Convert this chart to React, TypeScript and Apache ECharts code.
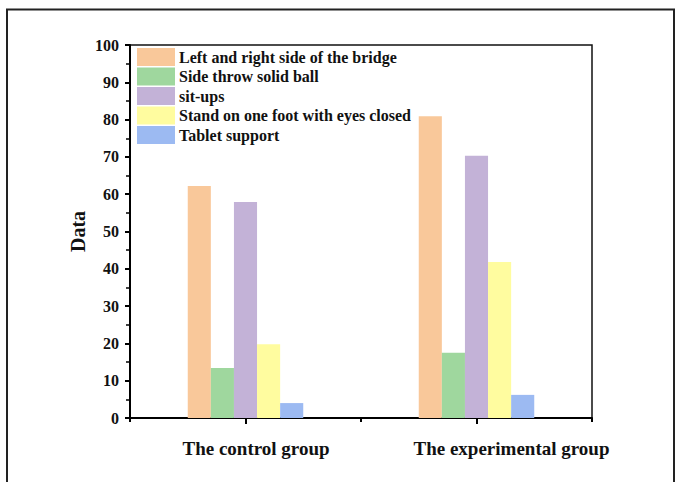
import React, { useEffect, useRef } from "react";
import * as echarts from "echarts";

const categories = ["The control group", "The experimental group"];
const seriesNames = [
  "Left and right side of the bridge",
  "Side throw solid ball",
  "sit-ups",
  "Stand on one foot with eyes closed",
  "Tablet support",
];
const bridgeValues = [62.2, 80.9];
const throwValues = [13.4, 17.5];
const situpValues = [57.9, 70.3];
const standValues = [19.8, 41.8];
const tabletValues = [4.0, 6.2];
const colors = ["#F9C89A", "#9FD79E", "#C3B2D7", "#FFFC9F", "#9CBAF2"];
const yTicks = { min: 0, max: 100, interval: 10 };

const FONT = "'Liberation Serif', 'Times New Roman', serif";

export default function App() {
  const ref = useRef<HTMLDivElement>(null);
  useEffect(() => {
    if (!ref.current) return;
    const chart = echarts.init(ref.current, null, { renderer: "svg" });
    const values = [bridgeValues, throwValues, situpValues, standValues, tabletValues];
    chart.setOption({
      animation: false,
      backgroundColor: "#fff",
      graphic: [
        {
          type: "rect",
          shape: { x: 7, y: 9.5, width: 667, height: 500 },
          style: { fill: "none", stroke: "#222", lineWidth: 2 },
          silent: true,
        },
      ],
      grid: {
        left: 130,
        right: 83,
        top: 45,
        bottom: 64,
        show: true,
        borderColor: "#111",
        borderWidth: 1.5,
        backgroundColor: "transparent",
      },
      legend: {
        orient: "vertical",
        left: 137,
        top: 48,
        padding: 0,
        itemWidth: 38,
        itemHeight: 18,
        itemGap: 1.5,
        icon: "rect",
        data: seriesNames,
        textStyle: {
          fontFamily: FONT,
          fontWeight: "bold",
          fontSize: 16,
          color: "#111",
          padding: [0, 0, 0, -1],
        },
      },
      xAxis: [
        {
          type: "category",
          data: categories,
          position: "bottom",
          axisLine: { show: true, lineStyle: { color: "#000", width: 2 } },
          axisTick: { show: true, alignWithLabel: true, length: 6, lineStyle: { color: "#000", width: 2 } },
          axisLabel: {
            interval: 0,
            align: "left",
            padding: [0, 0, 0, -63],
            margin: 21,
            fontFamily: FONT,
            fontWeight: "bold",
            fontSize: 19,
            color: "#111",
          },
          splitLine: { show: false },
        },
        {
          type: "category",
          data: categories,
          position: "bottom",
          axisLine: { show: false },
          axisTick: { show: true, length: 4, lineStyle: { color: "#000", width: 2 } },
          axisLabel: { show: false },
          splitLine: { show: false },
        },
      ],
      yAxis: {
        type: "value",
        min: yTicks.min,
        max: yTicks.max,
        interval: yTicks.interval,
        name: "Data",
        nameLocation: "middle",
        nameGap: 42,
        nameMoveOverlap: false,
        nameTextStyle: { fontFamily: FONT, fontWeight: "bold", fontSize: 20, color: "#111" },
        axisLine: { show: true, lineStyle: { color: "#000", width: 2 } },
        axisTick: { show: true, length: 5, lineStyle: { color: "#000", width: 2 } },
        minorTick: { show: true, splitNumber: 2, length: 4, lineStyle: { color: "#000", width: 1.5 } },
        axisLabel: {
          margin: 11,
          fontFamily: FONT,
          fontWeight: "bold",
          fontSize: 16,
          color: "#111",
        },
        splitLine: { show: false },
      },
      series: seriesNames.map((name, i) => ({
        name,
        type: "bar",
        xAxisIndex: 0,
        data: values[i],
        barGap: "0%",
        barCategoryGap: "50%",
        itemStyle: { color: colors[i] },
      })),
    });
    return () => chart.dispose();
  }, []);
  return (
    <div
      ref={ref}
      style={{ position: "absolute", left: 0, top: 0, width: 675, height: 482 }}
    />
  );
}
